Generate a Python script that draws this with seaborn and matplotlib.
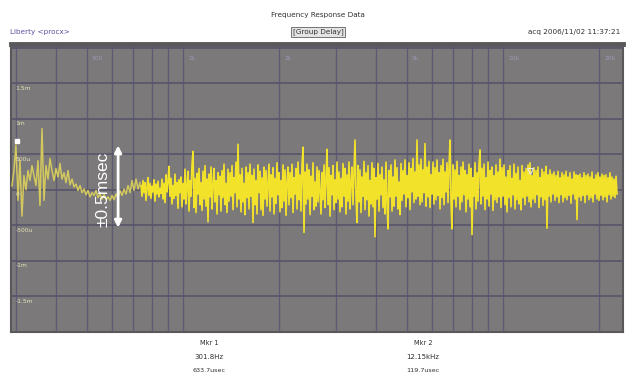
import numpy as np
import pandas as pd
import matplotlib
matplotlib.use("Agg")
import matplotlib.pyplot as plt
import seaborn as sns

# ---------------- data ----------------
title = "Frequency Response Data"
left_label = "Liberty <procx>"
mode_label = "[Group Delay]"
stamp = "acq 2006/11/02 11:37:21"

# group delay readings (microseconds), low-frequency part of the sweep (292 Hz .. 734 Hz)
delay_lo_us = [56, 270, 630, -150, 410, -370, 200, 0, 270, 130, 340, 200, 60, 410, -220, 860,
               -150, 340, 150, 440, 270, 130, 300, 180, 370, 150, 240, 100, 270, 70, 150, 40,
               80, -10, 60, -40, 10, -70, -10, -100, -40, -80, -10, -110, -60, -130, -70, -140,
               -100, -150, -80, -140, -60, -110, -10, -80, 10, -60, 60, -40, 130, -10, 150, 10, 100]
# group delay readings (microseconds), 739 Hz .. 22.7 kHz
delay_hi_us = [
    60, -90, 130, -40, 100, -150, 30, 170, -80, 90, -120, 50, -30, 140, -160, 80, -60, 120, -100, 20,
    -50, 150, -130, 90, -180, 210, -30, 120, 330, -90, 160, -200, 60, -120, 220, -80, 100, -260, 140, -40,
    180, -240, 90, -130, 290, -200, 50, 260, -300, 130, -90, 350, 540, -250, 160, -320, 230, -60, 300, -210,
    100, -290, 260, -130, 340, -230, 150, -450, 220, -100, 320, -270, 60, 300, -170, 130, -340, 240, -70, 190,
    -300, 270, -110, 360, -210, 90, -320, 290, -160, 240, -90, 340, -280, 170, -40, 390, -240, 640, -130, 210,
    -310, 300, -170, 90, -350, 320, -110, 240, -270, 360, -90, 200, -460, 290, -210, 130, -340, 350, -40, 260,
    -280, 170, -360, 320, -130, 270, -230, 60, 360, -300, 210, -100, 310, -340, 160, -190, 380, -70, 240, -310,
    130, -250, 350, -160, 280, -360, 90, 320, -210, 240, -110, 360, -320, 170, -60, 300, -270, 390, -140, 210,
    -300, 340, 600, -600, 250, -200, 360, -130, 280, -350, 190, -90, 380, -280, 110, -230, 320, -170, 270, -40,
    -340, 240, -140, 350, -250, 130, 570, -210, 310, -370, 200, -70, 340, -280, 140, -180, 390, -130, 250, -310,
    160, -240, 370, -90, 300, -340, 210, -160, 390, -270, 100, 320, -210, 270, 700, -110, -460, 340, -170, 280,
    -320, 180, -90, 400, -280, 240, -140, 340, -370, 130, -200, 380, -240, 300, -660, 170, -130, 370, -300, 210,
    -70, 320, -250, 140, -340, 390, -170, -550, 270, -100, 350, -300, 180, -230, 420, -90, 310, -270, 110, -350,
    370, -150, 270, -60, 420, -240, 200, -110, 380, -280, 300, -30, 440, -180, 250, -130, 700, -90, 350, -210,
    430, -170, 280, -40, 650, -230, 320, -100, 400, -250, 210, -60, 390, -200, 310, -140, 420, -80, 240, -270,
    340, -110, 430, -210, 250, -30, 380, -180, 310, 700, -160, -550, 350, -130, 280, -240, 400, -90, 200, -280,
    320, -170, 390, -70, 270, -310, 210, -130, 360, -240, 300, -630, 170, -90, 380, -270, 240, -160, 340, 560,
    -200, 300, -90, 360, -280, 170, -130, 390, -230, 270, -60, 320, -290, 200, -140, 350, -180, 250, -100, 430,
    -250, 310, -90, 350, -210, 180, -310, 270, -110, 340, -240, 160, -70, 360, -270, 230, -140, 320, -200, 130,
    -280, 340, -110, 250, -210, 300, -90, 350, -170, 380, -240, 200, -130, 310, -180, 270, -70, 320, -250, 170,
    -100, 290, -220, 250, -140, 330, -540, 210, -90, 280, -170, 220, -60, 250, -150, 200, -100, 260, -180, 170,
    -70, 240, -170, 210, -110, 260, -140, 180, -80, 240, -190, 150, -60, 250, -130, 210, -420, 200, -100, 220,
    -150, 170, -80, 240, -180, 200, -70, 220, -140, 180, -110, 250, -170, 150, -60, 210, -130, 240, -150, 180,
    -80, 220, -140, 200, -100, 210, -170, 170, -70, 240, -130, 180, -90, 150, -110, 190, -60]

freq_lo = np.geomspace(292, 734, len(delay_lo_us))
freq_hi = np.geomspace(739, 22700, len(delay_hi_us))

ytick_vals = [1.5, 1.0, 0.5, 0.0, -0.5, -1.0, -1.5]
ytick_labels = ["1.5m", "1m", "500u", "0", "-500u", "-1m", "-1.5m"]
xtick_vals = [500, 1000, 2000, 5000, 10000, 20000]
xtick_labels = ["500", "1k", "2k", "5k", "10k", "20k"]

mkr_names = ["Mkr 1", "Mkr 2"]
mkr_freq = [301.8, 12150]
mkr_freq_text = ["301.8Hz", "12.15kHz"]
mkr_val_text = ["633.7usec", "119.7usec"]

annot_text = "\u00b10.5msec"

# ---------------- figure ----------------
fig = plt.figure(figsize=(6.28, 3.85), dpi=100)
fig.patch.set_facecolor("white")
W, H = 628, 385
ax = fig.add_axes([11 / W, 1 - 332 / H, 612 / W, 288 / H])
ax.set_facecolor("#7b797a")

df_lo = pd.DataFrame({"f": freq_lo, "d": np.array(delay_lo_us) / 1000.0})
df_hi = pd.DataFrame({"f": freq_hi, "d": np.array(delay_hi_us) / 1000.0})
sns.lineplot(data=df_lo, x="f", y="d", ax=ax, color="#d2c85e", lw=1.1,
             estimator=None, sort=False, zorder=3)
sns.lineplot(data=df_hi, x="f", y="d", ax=ax, color="#f3e22a", lw=1.2,
             estimator=None, sort=False, zorder=3)

ax.set_xscale("log")
ax.set_xlim(290, 23700)
ax.set_ylim(-2.0, 2.05)

grid_f = [m * 10 ** e for e in (2, 3, 4) for m in range(1, 10)]
grid_f = [g for g in grid_f if 290 < g < 23700]
ax.set_xticks(grid_f)
ax.xaxis.set_minor_locator(matplotlib.ticker.NullLocator())
ax.set_xticklabels([])
ax.set_yticks([2.0, 1.5, 1.0, 0.5, 0.0, -0.5, -1.0, -1.5])
ax.set_yticklabels([])
ax.tick_params(length=0)
ax.grid(True, axis="x", color="#5d5b74", lw=1.0, zorder=1)
ax.grid(True, axis="y", color="#56546a", lw=1.2, zorder=1)
ax.set_axisbelow(True)
ax.set_xlabel("")
ax.set_ylabel("")
for s in ax.spines.values():
    s.set_color("#5a585b")
    s.set_linewidth(1.5)
ax.spines["top"].set_linewidth(3.5)

# y labels inside the plot, just under each gridline
ytr = matplotlib.transforms.blended_transform_factory(ax.transAxes, ax.transData)
for v, t in zip(ytick_vals, ytick_labels):
    ax.text(0.007, v - 0.07, t, transform=ytr, fontsize=4.3, color="#e6e4b8",
            ha="left", va="center", zorder=4)

# x labels inside the plot, near the top
xtr = matplotlib.transforms.blended_transform_factory(ax.transData, ax.transAxes)
for v, t in zip(xtick_vals, xtick_labels):
    ax.text(v * 1.035, 0.95, t, transform=xtr, fontsize=4.3, color="#9b99b4",
            ha="left", va="center", zorder=4)

# markers
ax.plot([mkr_freq[0]], [0.68], marker="s", ms=3, color="white", zorder=5)
ax.plot([mkr_freq[1]], [0.27], marker="v", ms=5, mfc="none", mec="#e8e8e8", mew=0.8, zorder=5)

# annotation: double arrow + rotated text
ax.annotate("", xy=(0.175, 0.648), xytext=(0.175, 0.362), xycoords="axes fraction",
            arrowprops=dict(arrowstyle="<|-|>", color="white", lw=2.0,
                            mutation_scale=10, shrinkA=0, shrinkB=0), zorder=6)
ax.text(0.151, 0.497, annot_text, transform=ax.transAxes, rotation=90,
        fontsize=12.5, color="white", ha="center", va="center",
        family=["Liberation Sans", "DejaVu Sans"], zorder=6)

# header
fig.text(318 / W, 1 - 15 / H, title, fontsize=5.2, color="#303030", ha="center", va="center")
fig.text(10 / W, 1 - 32 / H, left_label, fontsize=5.2, color="#5a4fa0", ha="left", va="center")
fig.text(318 / W, 1 - 32 / H, mode_label, fontsize=5.2, color="#303030", ha="center", va="center",
         bbox=dict(boxstyle="square,pad=0.2", fc="#e4e4e4", ec="#606060", lw=0.6))
fig.text(620 / W, 1 - 32 / H, stamp, fontsize=5.2, color="#303030", ha="right", va="center")

# footer marker readouts
for i, xc in enumerate([209, 423]):
    fig.text(xc / W, 1 - 343 / H, mkr_names[i], fontsize=4.8, color="#303030", ha="center", va="center")
    fig.text(xc / W, 1 - 357 / H, mkr_freq_text[i], fontsize=5.0, color="#303030", ha="center", va="center")
    fig.text(xc / W, 1 - 371 / H, mkr_val_text[i], fontsize=4.6, color="#303030", ha="center", va="center")

fig.savefig("out.png", dpi=100, facecolor="white")
